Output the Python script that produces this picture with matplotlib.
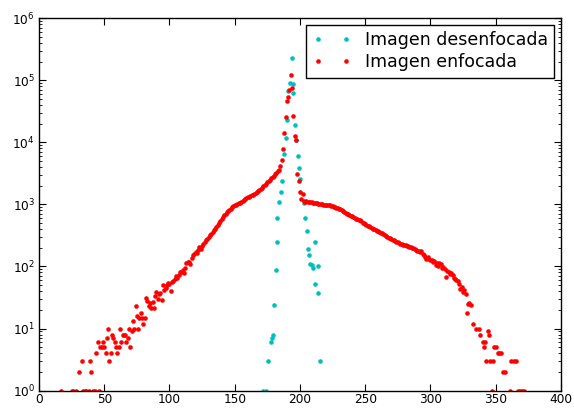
import matplotlib
matplotlib.use("Agg")
import matplotlib.pyplot as plt
from matplotlib.ticker import FixedLocator, LogFormatterSciNotation, NullFormatter

# ---- Data: "Imagen desenfocada" (cyan) ----
x_desenf = [172, 174, 175.5, 177.5, 178.3, 179.5, 180, 181.5, 182.3, 182.8,
            184.3, 185.2, 186.2, 187.9, 189, 190.2, 191, 192.3, 193.6, 194.4,
            194.9, 196.4, 196.9, 198.5, 199.2, 200.2, 203, 203.8, 205.2, 205.9,
            207.2, 207.7, 209, 209.8, 211.3, 211.8, 213.5, 214.1, 215.4]
y_desenf = [1, 1, 3, 6, 7, 8, 24, 87, 248, 600,
            1100, 1600, 2400, 6400, 11900, 23000, 66000, 90000, 226000, 87000,
            63000, 19000, 10700, 6000, 3800, 2600, 1050, 610, 372, 194,
            152, 111, 105, 93, 248, 52, 100, 38, 3]

# ---- Data: "Imagen enfocada" (red) ----
x_enf_left = [17, 25, 26, 28, 31, 33, 34, 35, 36, 38, 39, 40, 41, 43, 44, 45, 46,
              47, 48, 49, 50, 51, 52, 53, 54, 55, 56, 57, 58, 59, 60, 61, 62, 63,
              64, 65, 66, 67, 68, 69, 70, 71, 72, 73, 74, 75, 76, 77, 78, 79, 80,
              81, 82, 83, 84, 85, 86, 87, 88, 89, 90, 91, 92, 93, 94, 95, 96, 97,
              98, 99, 100, 101, 102, 103, 104, 105, 106, 107, 108, 109, 110]
y_enf_left = [1, 1, 1, 1, 2, 3, 1, 1, 1, 1, 3, 2, 1, 1, 4, 6, 1,
              5, 5, 6, 5, 4, 7, 10, 3, 4, 8, 7, 6, 5, 4, 5, 10, 6,
              8, 8, 8, 6, 7, 10, 5, 9, 13, 10, 23, 16, 10, 15, 18, 15, 12,
              15, 31, 28, 23, 26, 21, 27, 21, 33, 39, 30, 36, 37, 29, 50, 42, 45,
              50, 55, 52, 40, 57, 58, 62, 70, 64, 72, 82, 80, 88]
x_enf_mid = list(range(111, 203))
y_enf_mid = [78, 95, 112, 118, 119, 108, 135, 150, 160, 172,
             165, 185, 205, 194, 215, 230, 245, 262, 275, 300,
             317, 338, 355, 380, 400, 430, 460, 500, 540, 575,
             620, 664, 700, 740, 780, 815, 850, 890, 925, 960,
             990, 1016, 1040, 1070, 1095, 1130, 1170, 1210, 1250, 1300,
             1330, 1360, 1400, 1440, 1480, 1520, 1570, 1620, 1700, 1770,
             1850, 1950, 2050, 2150, 2270, 2380, 2500, 2620, 2750, 2900,
             3050, 3200, 3400, 3600, 4200, 5200, 7700, 14000, 26000, 47000,
             53000, 70000, 120000, 75000, 27000, 12700, 10900, 3100, 2400, 1570,
             1200, 1470]
x_enf_right = list(range(203, 332))
y_enf_right = [1150, 1100, 1120, 1090, 1100, 1080, 1090, 1070, 1060, 1050,
               1040, 1030, 1020, 1010, 1000, 990, 990, 980, 970, 965,
               960, 940, 930, 910, 900, 880, 870, 855, 840, 810,
               780, 760, 730, 710, 690, 670, 650, 640, 620, 600,
               590, 580, 560, 550, 530, 510, 500, 480, 470, 455,
               440, 430, 420, 405, 395, 390, 375, 370, 360, 350,
               340, 330, 320, 310, 300, 290, 285, 280, 270, 265,
               255, 250, 245, 240, 233, 228, 225, 220, 218, 215,
               210, 207, 205, 200, 195, 190, 185, 180, 178, 172,
               176, 160, 150, 142, 134, 140, 132, 125, 128, 119,
               122, 105, 115, 100, 112, 108, 96, 98, 90, 68,
               85, 80, 75, 77, 72, 66, 62, 60, 58, 52,
               44, 47, 39, 41, 36, 18, 25, 26, 24]
x_enf_tail = [333, 335, 337, 338, 340, 341, 342, 343, 344, 345, 346, 347, 348,
              349, 350, 352, 353, 354, 356, 357, 361, 362, 364, 366, 367, 369,
              370, 372]
y_enf_tail = [12, 10, 10, 8, 6, 5, 6, 3, 9, 8, 3, 1, 3,
              5, 5, 4, 4, 4, 2, 2, 1, 3, 3, 3, 1, 1,
              1, 1]

x_enf = x_enf_left + x_enf_mid + x_enf_right + x_enf_tail
y_enf = y_enf_left + y_enf_mid + y_enf_right + y_enf_tail

x_ticks = [0, 50, 100, 150, 200, 250, 300, 350, 400]
y_ticks = [1, 10, 100, 1000, 10000, 100000, 1000000]
labels = ["Imagen desenfocada", "Imagen enfocada"]

fig = plt.figure(figsize=(5.74, 4.12), dpi=100)
ax = fig.add_axes([0.068, 0.052, 0.909, 0.904])

ax.plot(x_desenf, y_desenf, linestyle="none", marker="o", markersize=3.3,
        markeredgewidth=0, color=(0.0, 0.75, 0.75), label=labels[0])
ax.plot(x_enf, y_enf, linestyle="none", marker="o", markersize=3.3,
        markeredgewidth=0, color=(1.0, 0.0, 0.0), label=labels[1])

ax.set_yscale("log")
ax.set_xlim(0, 400)
ax.set_ylim(1, 1e6)
ax.xaxis.set_major_locator(FixedLocator(x_ticks))
ax.yaxis.set_major_locator(FixedLocator(y_ticks))
ax.yaxis.set_major_formatter(LogFormatterSciNotation(base=10))
minor = [m * d for d in y_ticks[:-1] for m in range(2, 10)]
ax.yaxis.set_minor_locator(FixedLocator(minor))
ax.yaxis.set_minor_formatter(NullFormatter())

for sp in ax.spines.values():
    sp.set_color("black")
    sp.set_linewidth(1.0)

ax.tick_params(which="both", direction="in", top=True, right=True,
               labelsize=8.7, colors="black")
ax.tick_params(which="major", length=5, width=0.8)
ax.tick_params(which="minor", length=2.5, width=0.6)
ax.tick_params(axis="x", pad=1.5)
ax.tick_params(axis="y", pad=3)

leg = ax.legend(loc="upper right", numpoints=2, fontsize=12.5, frameon=True,
                fancybox=False, framealpha=1, edgecolor="black",
                borderaxespad=0.4, handlelength=2.2, handletextpad=0.8,
                borderpad=0.35, labelspacing=0.25)
leg.get_frame().set_linewidth(1.0)

fig.savefig("out.png", dpi=100)
